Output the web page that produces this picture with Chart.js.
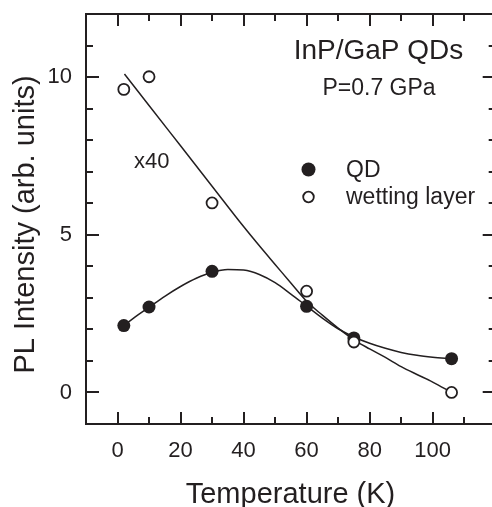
<!DOCTYPE html>
<html><head><meta charset="utf-8">
<script src="https://cdn.jsdelivr.net/npm/chart.js@4"></script>
<style>
html,body{margin:0;padding:0;background:#fff;overflow:hidden;width:492px;height:507px}
canvas{display:block}
</style></head>
<body><canvas id="c" width="503" height="507"></canvas>
<script>
// ---- data ----
const temperatures = [2, 10, 30, 60, 75, 106];
const qdIntensity = [2.12, 2.71, 3.84, 2.73, 1.73, 1.07];
const wettingIntensity = [9.61, 10.01, 6.01, 3.21, 1.60, 0.0];

const qdFitT = [2, 5, 10, 15, 20, 25, 30, 35, 40, 45, 50, 55, 60, 65, 70, 75, 80, 85, 90, 95, 100, 106];
const qdFitY = [2.12, 2.35, 2.70, 3.05, 3.36, 3.62, 3.81, 3.90, 3.88, 3.74, 3.48, 3.12, 2.74, 2.36, 2.02, 1.76, 1.56, 1.40, 1.27, 1.18, 1.12, 1.07];
const wlFitT = [2.2, 10, 20, 30, 40, 46, 50, 55, 60, 65, 70, 75, 80, 85, 90, 95, 100, 106];
const wlFitY = [10.1, 9.1, 7.82, 6.54, 5.26, 4.53, 4.06, 3.47, 2.89, 2.45, 2.04, 1.67, 1.38, 1.11, 0.82, 0.57, 0.33, 0.0];

const xTickLabels = [0, 20, 40, 60, 80, 100];
const yTickLabels = [0, 5, 10];
const xTickMarks = [0, 10, 20, 30, 40, 50, 60, 70, 80, 90, 100, 110];
const yTickMarks = [0, 1, 2, 3, 4, 5, 6, 7, 8, 9, 10, 11];

const seriesNames = ['QD', 'wetting layer'];
const xTitle = 'Temperature (K)';
const yTitle = 'PL Intensity (arb. units)';
const sampleTitle = 'InP/GaP QDs';
const pressureLabel = 'P=0.7 GPa';
const scaleNote = 'x40';

// ---- drawing ----
const INK = '#231f20';
const FONT = '"Liberation Sans", Arial, Helvetica, sans-serif';

const pts = (xs, ys) => xs.map((x, i) => ({x: x, y: ys[i]}));

const decor = {
  id: 'decor',
  afterDraw(chart) {
    const ctx = chart.ctx, a = chart.chartArea;
    const xs = chart.scales.x, ys = chart.scales.y;
    ctx.save();
    ctx.strokeStyle = INK;
    ctx.lineWidth = 2;
    ctx.lineCap = 'butt';
    // frame
    ctx.beginPath();
    ctx.moveTo(a.left, a.top); ctx.lineTo(a.right, a.top);
    ctx.moveTo(a.left, a.bottom); ctx.lineTo(a.right, a.bottom);
    ctx.moveTo(a.left, a.top - 1); ctx.lineTo(a.left, a.bottom + 1);
    ctx.moveTo(a.right, a.top - 1); ctx.lineTo(a.right, a.bottom + 1);
    ctx.stroke();
    // inward ticks
    ctx.beginPath();
    xTickMarks.forEach(v => {
      const px = Math.round(xs.getPixelForValue(v));
      const L = xTickLabels.includes(v) ? 12 : 7;
      ctx.moveTo(px, a.bottom); ctx.lineTo(px, a.bottom - L);
      ctx.moveTo(px, a.top); ctx.lineTo(px, a.top + L);
    });
    yTickMarks.forEach(v => {
      const py = Math.round(ys.getPixelForValue(v));
      const L = yTickLabels.includes(v) ? 13 : 7;
      ctx.moveTo(a.left, py); ctx.lineTo(a.left + L, py);
      ctx.moveTo(a.right, py); ctx.lineTo(a.right - L, py);
    });
    ctx.stroke();

    // texts
    ctx.fillStyle = INK;
    ctx.textBaseline = 'alphabetic';
    ctx.textAlign = 'center';
    ctx.font = '28px ' + FONT;
    ctx.fillText(sampleTitle, 378.5, 59);
    ctx.font = '23px ' + FONT;
    ctx.fillText(pressureLabel, 379, 95);
    ctx.textAlign = 'left';
    ctx.font = '22px ' + FONT;
    ctx.fillText(scaleNote, 134, 168);

    // legend
    ctx.font = '23px ' + FONT;
    ctx.fillText(seriesNames[0], 346, 177);
    ctx.fillText(seriesNames[1], 346, 204);
    ctx.beginPath();
    ctx.arc(308.5, 169.5, 7, 0, Math.PI * 2);
    ctx.fill();
    ctx.beginPath();
    ctx.lineWidth = 1.8;
    ctx.arc(308.5, 197, 5.3, 0, Math.PI * 2);
    ctx.fillStyle = '#fff';
    ctx.fill();
    ctx.stroke();

    // axis titles
    ctx.fillStyle = INK;
    ctx.font = '29px ' + FONT;
    ctx.textAlign = 'center';
    ctx.fillText(xTitle, 290.5, 503);
    ctx.save();
    ctx.translate(33.5, 224.5);
    ctx.rotate(-Math.PI / 2);
    ctx.fillText(yTitle, 0, 0);
    ctx.restore();
    ctx.restore();
  }
};

new Chart(document.getElementById('c'), {
  type: 'scatter',
  data: {
    datasets: [
      {label: seriesNames[0], data: pts(temperatures, qdIntensity), pointStyle: 'circle',
       pointRadius: 6.5, backgroundColor: INK, borderColor: INK, borderWidth: 0, order: 1},
      {label: seriesNames[1], data: pts(temperatures, wettingIntensity), pointStyle: 'circle',
       pointRadius: 5.5, backgroundColor: '#fff', borderColor: INK, borderWidth: 1.8, order: 0},
      {label: 'QD fit', data: pts(qdFitT, qdFitY), showLine: true, pointRadius: 0,
       borderColor: INK, borderWidth: 1.5, cubicInterpolationMode: 'monotone', order: 3},
      {label: 'wetting layer fit', data: pts(wlFitT, wlFitY), showLine: true, pointRadius: 0,
       borderColor: INK, borderWidth: 1.5, cubicInterpolationMode: 'monotone', order: 2}
    ]
  },
  options: {
    responsive: false,
    animation: false,
    events: [],
    layout: {padding: {top: 14, right: 1, left: 0, bottom: 0}},
    plugins: {legend: {display: false}, tooltip: {enabled: false}},
    scales: {
      x: {
        type: 'linear', min: -10, max: 120,
        afterBuildTicks: s => { s.ticks = xTickLabels.map(v => ({value: v})); },
        afterFit: s => { s.height = 83; s.paddingLeft = 0; s.paddingRight = 0; s.paddingTop = 0; s.paddingBottom = 0; },
        grid: {display: false, drawTicks: false, tickLength: 0},
        border: {display: false},
        ticks: {font: {family: FONT, size: 22}, color: INK, padding: 14, maxRotation: 0, autoSkip: false}
      },
      y: {
        type: 'linear', min: -1, max: 12,
        afterBuildTicks: s => { s.ticks = yTickLabels.map(v => ({value: v})); },
        afterFit: s => { s.width = 86; s.paddingLeft = 0; s.paddingRight = 0; s.paddingTop = 0; s.paddingBottom = 0; },
        grid: {display: false, drawTicks: false, tickLength: 0},
        border: {display: false},
        ticks: {font: {family: FONT, size: 22}, color: INK, padding: 14, autoSkip: false}
      }
    }
  },
  plugins: [decor]
});
</script>
</body></html>
